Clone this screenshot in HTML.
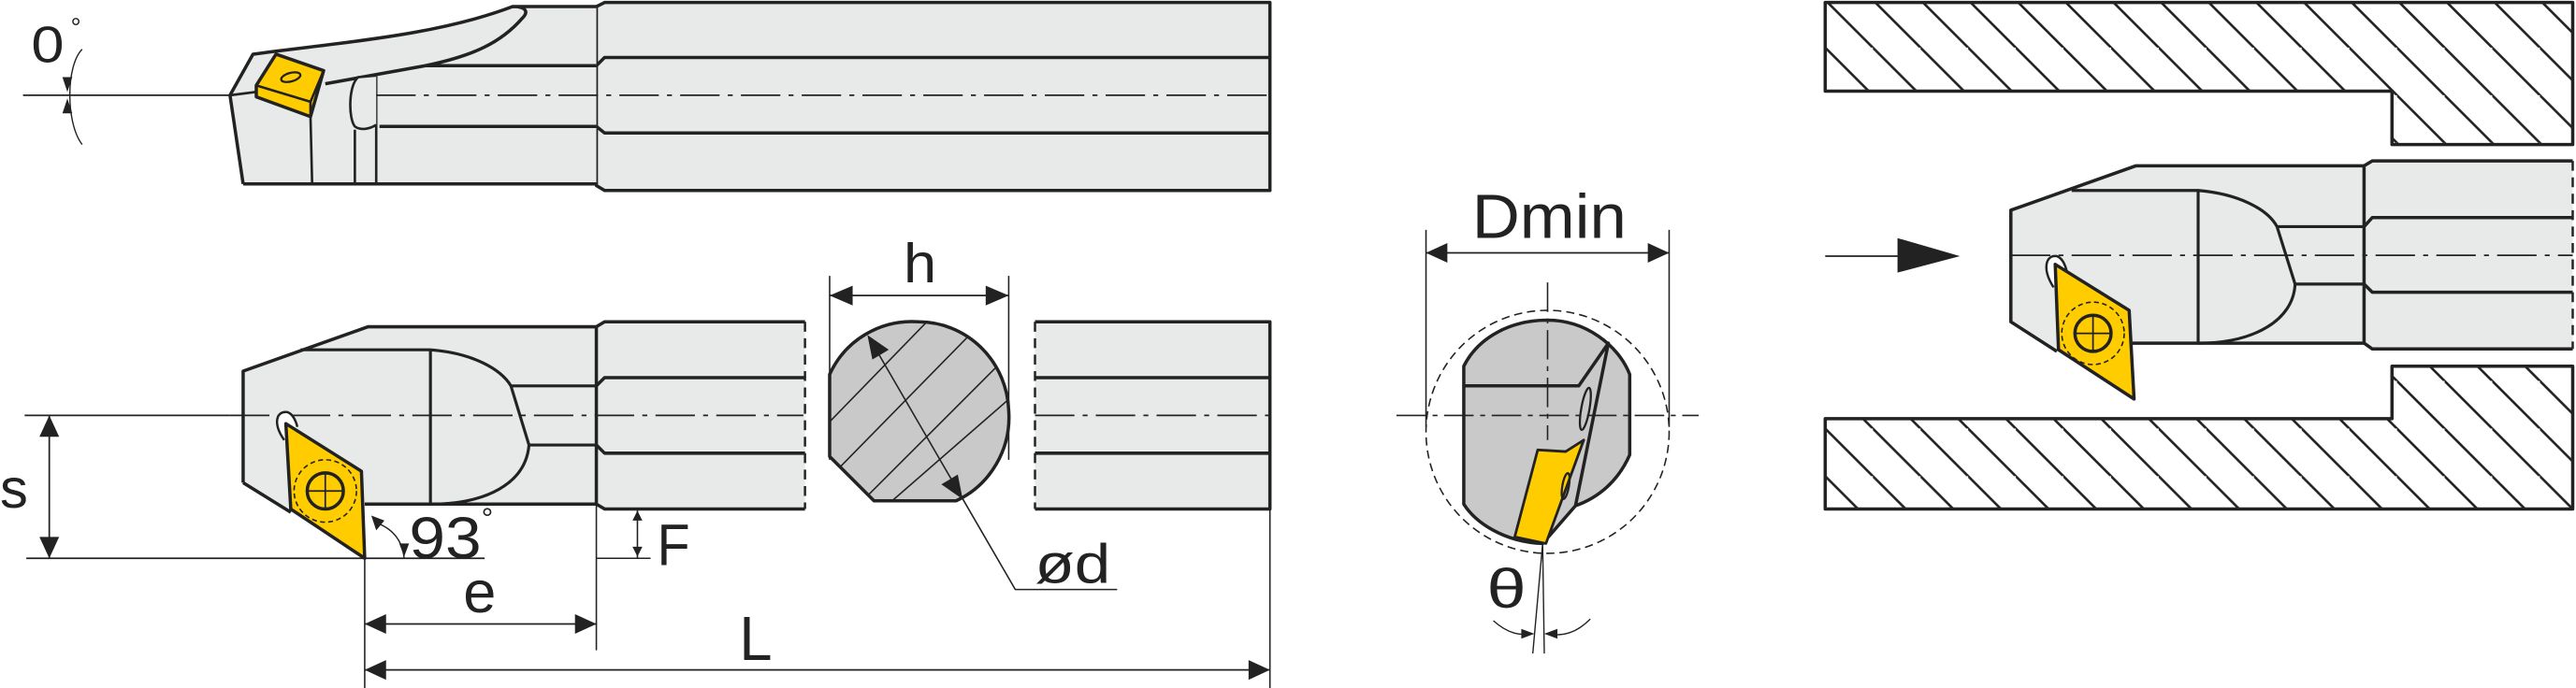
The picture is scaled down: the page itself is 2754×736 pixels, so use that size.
<!DOCTYPE html>
<html><head><meta charset="utf-8"><style>html,body{margin:0;padding:0;background:#fff}svg{display:block}</style></head>
<body>
<svg width="2754" height="736" viewBox="0 0 1568 419" preserveAspectRatio="none" xmlns="http://www.w3.org/2000/svg" font-family="Liberation Sans, sans-serif" fill="none" stroke="#222" stroke-linejoin="round">
<defs>
<pattern id="hatch" patternUnits="userSpaceOnUse" width="29" height="29" patternTransform="translate(1111,0)">
<path d="M-1,-1 L30,30 M-16,13 L15,44 M14,-16 L45,15" stroke="#222" stroke-width="1.5"/>
</pattern>
<clipPath id="cs"><path d="M532,305 L505,278 L505,228 A55,55 0 0 1 559.5,196 A55,56 0 0 1 614,250 A55,56 0 0 1 582,305 Z"/></clipPath>
</defs>

<!-- TOP VIEW -->
<path d="M368,1.5 L773,1.5 L773,116 L368,116 L363,113 L363,4 Z" fill="#e8eae9" stroke-width="2"/>
<path d="M363,40 L368,35 L773,35 M363,77 L368,81 L773,81" stroke-width="2"/>
<path d="M148,112 L140,58 L154,33 C205,26 265,22 312,4 L363,4 L363,112 Z" fill="#e8eae9" stroke="none"/>
<path d="M148,112 L140,58 L154,33 C205,26 265,22 312,4 L363,4 M312,4 C320,4 322,7 318,11 C305,26 288,34 259,40 L363,40 M198,51 L259,40 M363,77 L231,77 M148,112 L363,112" stroke-width="2"/>
<path d="M189,71 L190,112 M216,79 L216,112 M229,46 L229,112" stroke-width="1.5"/>
<path d="M229,46 L218,47 C212,52 212,72 216,77 C220,80 226,78 229,76" fill="#e8eae9" stroke-width="1.5"/>
<path d="M140,58 L156,56" stroke-width="1.5"/>
<path d="M168,33 L197,43 L189,71 L156,59 L156,52 Z" fill="#ffcc00" stroke-width="2"/>
<path d="M156,52 L189,62 L197,43 M189,62 L189,71" stroke-width="1.5"/>
<ellipse cx="177" cy="47" rx="6" ry="2.6" transform="rotate(-15 177 47)" stroke-width="1.3"/>
<path d="M14,58 L140,58" stroke-width="1"/>
<path d="M229,58 L773,58" stroke-width="1" stroke-dasharray="24,5,3,5"/>
<path d="M50,30 C40,40 40,75 50,88" stroke-width="0.8"/>
<polygon points="38,47 44,47 41,56" fill="#222" stroke="none"/>
<polygon points="38,69 44,69 41,60" fill="#222" stroke="none"/>
<text x="19" y="38" font-size="31" fill="#222" stroke="none" textLength="20" lengthAdjust="spacingAndGlyphs">0</text>
<text x="43" y="22" font-size="16" fill="#222" stroke="none">°</text>

<!-- BOTTOM VIEW -->
<path d="M148,226 L224,199 L363,199 L368,196 L490,196 L490,310 L368,310 L363,307 L222,307 L222,340 L148,294 Z" fill="#e8eae9" stroke="none"/>
<path d="M222,307 L363,307 L368,310 L490,310 M148,294 L148,226 L224,199 L363,199 L368,196 L490,196 M363,199 L363,307 M363,235 L368,230 L490,230 M363,271 L368,276 L490,276" stroke-width="2"/>
<path d="M490,196 L490,310" stroke-width="1.4" stroke-dasharray="6,4"/>
<path d="M183,213 L262,213 M262,213 L262,307 M262,213 C288,215 305,225 311,235 L363,235 M311,235 L322,271 L363,271 M322,271 C320,295 295,307 262,307" stroke-width="1.8"/>
<path d="M148,294 L177,312" stroke-width="2"/>
<path d="M15,253 L140,253" stroke-width="1"/>
<path d="M140,253 L489,253" stroke-width="1" stroke-dasharray="24,5,3,5"/>
<path d="M173,268 C166,258 168,250 175,251 C178,252 180,256 181,260" stroke-width="1.4" fill="#fff"/>
<path d="M174,258 L220,287 L222,340 L177,310 Z" fill="#ffcc00" stroke-width="2"/>
<circle cx="198" cy="299" r="19" stroke-width="0.9" stroke-dasharray="3,2"/>
<circle cx="198" cy="299" r="11" stroke-width="2"/>
<path d="M187,299 L209,299 M198,288 L198,310" stroke-width="1"/>
<path d="M16,340 L295,340" stroke-width="1"/>
<path d="M30,253 L30,340" stroke-width="1"/>
<polygon points="24,266 36,266 30,253" fill="#222" stroke="none"/>
<polygon points="24,327 36,327 30,340" fill="#222" stroke="none"/>
<text x="0" y="309" font-size="34" fill="#222" stroke="none" textLength="17" lengthAdjust="spacingAndGlyphs">s</text>
<path d="M228,318 C240,322 245,330 246,340" stroke-width="0.8"/>
<polygon points="226,314 234,317 229,323" fill="#222" stroke="none"/>
<polygon points="243,331 249,331 246,339" fill="#222" stroke="none"/>
<text x="249" y="340" font-size="36" fill="#222" stroke="none" textLength="44" lengthAdjust="spacingAndGlyphs">93</text>
<text x="293" y="322" font-size="18" fill="#222" stroke="none">°</text>
<path d="M363,340 L396,340 M388,310 L388,340" stroke-width="0.9"/>
<polygon points="385,317 391,317 388,311" fill="#222" stroke="none"/>
<polygon points="385,333 391,333 388,339" fill="#222" stroke="none"/>
<text x="400" y="344" font-size="36" fill="#222" stroke="none" textLength="20" lengthAdjust="spacingAndGlyphs">F</text>
<path d="M222,340 L222,419 M363,307 L363,396 M773,310 L773,419" stroke-width="0.9"/>
<path d="M222,380 L363,380 M222,408 L773,408" stroke-width="1"/>
<polygon points="222,380 235,374 235,386" fill="#222" stroke="none"/>
<polygon points="363,380 350,374 350,386" fill="#222" stroke="none"/>
<polygon points="222,408 235,402 235,414" fill="#222" stroke="none"/>
<polygon points="773,408 760,402 760,414" fill="#222" stroke="none"/>
<text x="282" y="373" font-size="36" fill="#222" stroke="none" textLength="20" lengthAdjust="spacingAndGlyphs">e</text>
<text x="450" y="402" font-size="38" fill="#222" stroke="none" textLength="20" lengthAdjust="spacingAndGlyphs">L</text>

<!-- cross section -->
<path d="M532,305 L505,278 L505,228 A55,55 0 0 1 559.5,196 A55,56 0 0 1 614,250 A55,56 0 0 1 582,305 Z" fill="#c8c9c8"/>
<g clip-path="url(#cs)" stroke-width="0.9">
<path d="M500,262 L570,190 M500,296 L600,194 M520,310 L620,210 M535,312 L620,238"/>
</g>
<path d="M532,305 L505,278 L505,228 A55,55 0 0 1 559.5,196 A55,56 0 0 1 614,250 A55,56 0 0 1 582,305 Z" stroke-width="2"/>
<path d="M505,168 L505,280 M614,168 L614,280" stroke-width="0.9"/>
<path d="M505,180 L614,180" stroke-width="1"/>
<polygon points="505,180 519,174 519,186" fill="#222" stroke="none"/>
<polygon points="614,180 600,174 600,186" fill="#222" stroke="none"/>
<text x="550" y="172" font-size="34" fill="#222" stroke="none" textLength="20" lengthAdjust="spacingAndGlyphs">h</text>
<path d="M531,209 L618,359 L680,359" stroke-width="0.9"/>
<polygon points="528,204 541,213 531,219" fill="#222" stroke="none"/>
<polygon points="586,304 573,295 583,289" fill="#222" stroke="none"/>
<text x="630" y="355" font-size="34" fill="#222" stroke="none" textLength="46" lengthAdjust="spacingAndGlyphs">ød</text>

<!-- right bar piece -->
<rect x="630" y="196" width="143" height="114" fill="#e8eae9" stroke="none"/>
<path d="M630,196 L773,196 L773,310 L630,310 M630,230 L773,230 M630,276 L773,276" stroke-width="2"/>
<path d="M630,196 L630,310" stroke-width="1.4" stroke-dasharray="6,4"/>
<path d="M630,253 L773,253" stroke-width="1" stroke-dasharray="24,5,3,5"/>

<!-- DMIN VIEW -->
<circle cx="942" cy="263" r="74" stroke-width="0.9" stroke-dasharray="5,3"/>
<path d="M891,307 L891,223 C900,205 920,195 942,195 C965,195 985,210 992,228 L992,277 C985,293 973,303 959,308 L939,331 C915,330 898,318 891,307 Z" fill="#c8c9c8" stroke-width="2"/>
<path d="M891,235 L961,235 L979,209 L959,308" stroke-width="2"/>
<path d="M936,274 L953,275 L964,268 L941,331 L922,327 Z" fill="#ffcc00" stroke-width="1.6"/>
<ellipse cx="965" cy="249" rx="2.5" ry="13" transform="rotate(10 965 249)" stroke-width="1.3"/>
<ellipse cx="953" cy="296" rx="2" ry="8" transform="rotate(10 953 296)" stroke-width="1.3"/>
<path d="M850,253 L1034,253 M942,172 L942,268" stroke-width="0.9" stroke-dasharray="18,4,3,4"/>
<path d="M868,140 L868,260 M1016,140 L1016,260" stroke-width="0.9"/>
<path d="M868,154 L1016,154" stroke-width="1"/>
<polygon points="868,154 881,148 881,160" fill="#222" stroke="none"/>
<polygon points="1016,154 1003,148 1003,160" fill="#222" stroke="none"/>
<text x="896" y="145" font-size="38" fill="#222" stroke="none" textLength="94" lengthAdjust="spacingAndGlyphs">Dmin</text>
<path d="M939,331 L933,398 M939,331 L940,398" stroke-width="0.8"/>
<path d="M909,378 C918,386 925,387 932,386 M968,377 C960,385 952,388 941,386" stroke-width="0.8"/>
<polygon points="926,383 934,386 926,389" fill="#222" stroke="none"/>
<polygon points="948,383 940,386 948,389" fill="#222" stroke="none"/>
<text x="905" y="370" font-size="34" fill="#222" stroke="none" textLength="24" lengthAdjust="spacingAndGlyphs">θ</text>

<!-- SECTION VIEW -->
<path d="M1111,1.5 L1566,1.5 L1566,88 L1456,88 L1456,55.5 L1111,55.5 Z" fill="url(#hatch)" stroke-width="2"/>
<path d="M1111,255 L1456,255 L1456,223 L1566,223 L1566,310 L1111,310 Z" fill="url(#hatch)" stroke-width="2"/>
<path d="M1111,156 L1156,156" stroke-width="1"/>
<polygon points="1155,145 1193,156 1155,166" fill="#222" stroke="none"/>
<path d="M1224,128 L1300,101 L1439,101 L1444,98 L1566,98 L1566,212.5 L1444,212.5 L1439,209 L1298,209 L1298,243 L1224,196 Z" fill="#e8eae9" stroke="none"/>
<path d="M1252,214 L1224,196 L1224,128 L1300,101 L1439,101 L1444,98 L1566,98 M1298,209 L1439,209 L1444,212.5 L1566,212.5 M1439,101 L1439,209 M1439,138 L1444,132.5 L1566,132.5 M1439,173 L1444,178 L1566,178" stroke-width="2"/>
<path d="M1566,98 L1566,212.5" stroke-width="1.4" stroke-dasharray="6,4"/>
<path d="M1261,116 L1338,116 L1338,209 M1338,116 C1362,118 1380,127 1386,138 L1439,138 M1386,138 L1397,173 L1439,173 M1397,173 C1396,195 1372,209 1338,209" stroke-width="1.8"/>
<path d="M1224,155.5 L1566,155.5" stroke-width="1" stroke-dasharray="24,5,3,5"/>
<path d="M1250,175 C1243,164 1245,155 1252,156 C1255,157 1257,161 1258,165" stroke-width="1.4" fill="#fff"/>
<path d="M1251,161 L1296,189 L1299,243 L1253,213 Z" fill="#ffcc00" stroke-width="2"/>
<circle cx="1274" cy="203" r="19" stroke-width="0.9" stroke-dasharray="3,2"/>
<circle cx="1274" cy="203" r="11" stroke-width="2"/>
<path d="M1263,203 L1285,203 M1274,192 L1274,214" stroke-width="1"/>
</svg>
</body></html>
